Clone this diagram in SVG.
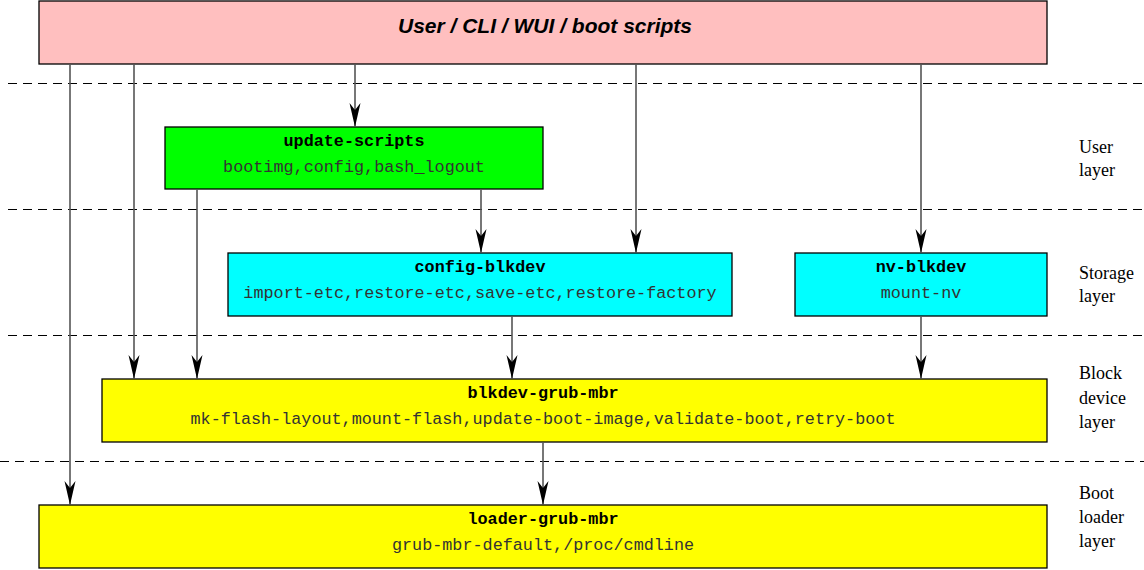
<svg xmlns="http://www.w3.org/2000/svg" width="1144" height="570" viewBox="0 0 1144 570">
<defs>
<marker id="ah" markerUnits="userSpaceOnUse" markerWidth="24" markerHeight="12" refX="24" refY="5.5" orient="auto" viewBox="0 0 24 11">
<path d="M0,0 L24,5.5 L0,11 L7,5.5 Z" fill="#000"/>
</marker>
</defs>
<style>
.box{stroke:#000;stroke-width:1.3}
.dash{stroke:#000;stroke-width:1;stroke-dasharray:9,6;fill:none}
.c{stroke:#555;stroke-width:1.6;fill:none;marker-end:url(#ah)}
.t{font-family:"Liberation Mono","DejaVu Sans Mono",monospace;font-size:16.8px;font-weight:bold;text-anchor:middle;fill:#000}
.s{font-family:"Liberation Mono","DejaVu Sans Mono",monospace;font-size:16.8px;text-anchor:middle;fill:#333}
.l{font-family:"Liberation Serif","Times New Roman",serif;font-size:18px;fill:#000}
.h{font-family:"Liberation Sans",Arial,sans-serif;font-size:21px;font-weight:bold;font-style:italic;text-anchor:middle;fill:#000}
</style>
<rect width="1144" height="570" fill="#fff"/>
<g id="dividers">
<line class="dash" x1="8" y1="83.5" x2="1144" y2="83.5"/>
<line class="dash" x1="8" y1="209.5" x2="1144" y2="209.5"/>
<line class="dash" x1="8" y1="335.5" x2="1144" y2="335.5"/>
<line class="dash" x1="0" y1="461.5" x2="1144" y2="461.5"/>
</g>
<g id="layer-labels">
<text class="l" x="1079" y="153">User</text>
<text class="l" x="1079" y="176">layer</text>
<text class="l" x="1079" y="279">Storage</text>
<text class="l" x="1079" y="302">layer</text>
<text class="l" x="1079" y="379">Block</text>
<text class="l" x="1079" y="404">device</text>
<text class="l" x="1079" y="428">layer</text>
<text class="l" x="1079" y="499">Boot</text>
<text class="l" x="1079" y="523">loader</text>
<text class="l" x="1079" y="547">layer</text>
</g>
<g id="user">
<rect class="box" x="39" y="1" width="1008" height="63" fill="#ffbfbf"/>
<text class="h" x="545" y="33">User / CLI / WUI / boot scripts</text>
</g>
<g id="update-scripts">
<rect class="box" x="165" y="127" width="378" height="62" fill="#00ff00"/>
<text class="t" x="354" y="146">update-scripts</text>
<text class="s" x="354" y="172">bootimg,config,bash_logout</text>
</g>
<g id="config-blkdev">
<rect class="box" x="228" y="253" width="504" height="63" fill="#00ffff"/>
<text class="t" x="480" y="272">config-blkdev</text>
<text class="s" x="480" y="298">import-etc,restore-etc,save-etc,restore-factory</text>
</g>
<g id="nv-blkdev">
<rect class="box" x="795" y="253" width="252" height="63" fill="#00ffff"/>
<text class="t" x="921" y="272">nv-blkdev</text>
<text class="s" x="921" y="298">mount-nv</text>
</g>
<g id="blkdev-grub-mbr">
<rect class="box" x="102" y="379" width="945" height="63" fill="#ffff00"/>
<text class="t" x="543" y="398">blkdev-grub-mbr</text>
<text class="s" x="543" y="424">mk-flash-layout,mount-flash,update-boot-image,validate-boot,retry-boot</text>
</g>
<g id="loader-grub-mbr">
<rect class="box" x="39" y="505" width="1008" height="63" fill="#ffff00"/>
<text class="t" x="543" y="524">loader-grub-mbr</text>
<text class="s" x="543" y="550">grub-mbr-default,/proc/cmdline</text>
</g>
<g id="connectors">
<line class="c" x1="70" y1="64" x2="70" y2="505"/>
<line class="c" x1="134" y1="64" x2="134" y2="379"/>
<line class="c" x1="355" y1="64" x2="355" y2="127"/>
<line class="c" x1="636" y1="64" x2="636" y2="253"/>
<line class="c" x1="921" y1="64" x2="921" y2="253"/>
<line class="c" x1="197" y1="189" x2="197" y2="379"/>
<line class="c" x1="481" y1="189" x2="481" y2="253"/>
<line class="c" x1="512" y1="316" x2="512" y2="379"/>
<line class="c" x1="921" y1="316" x2="921" y2="379"/>
<line class="c" x1="543" y1="442" x2="543" y2="505"/>
</g>
</svg>
